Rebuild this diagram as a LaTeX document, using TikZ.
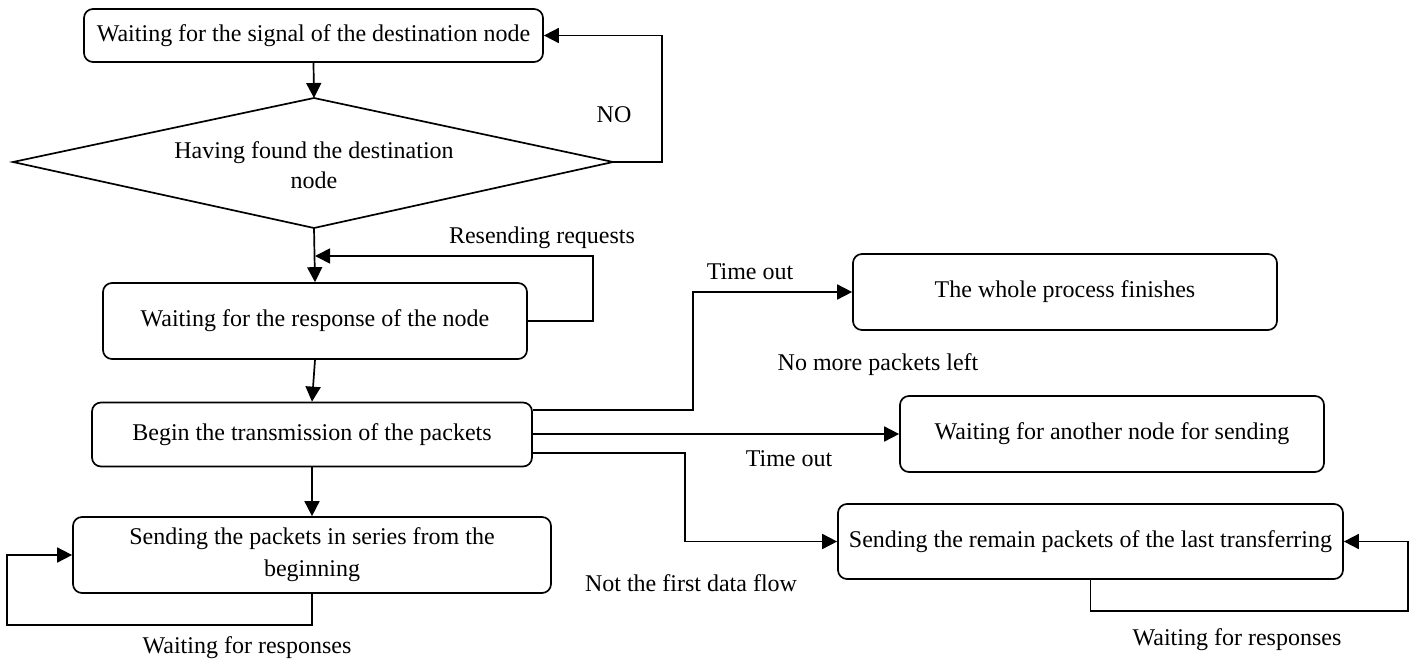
\documentclass[tikz,border=0pt]{standalone}
\usepackage{fontspec}
\setmainfont{Liberation Serif}
\usetikzlibrary{arrows.meta,calc}
\begin{document}
\begin{tikzpicture}[x=1pt,y=-1pt,
  box/.style={draw, line width=1.7pt, rounded corners=9pt, inner sep=0pt, align=center, font=\fontsize{24}{32}\selectfont},
  lbl/.style={inner sep=0pt, align=center, font=\fontsize{24}{30}\selectfont},
  arr/.style={line width=1.7pt, -{Triangle[length=15pt,width=15pt]}},
  ln/.style={line width=1.7pt, line join=miter}]
\useasboundingbox (0,0) rectangle (1416,664);

% boxes
\node[box, minimum width=459pt, minimum height=53pt] (b1) at (313.5,35.5) {Waiting for the signal of the destination node};
\node[box, minimum width=424pt, minimum height=76pt] (b3) at (315,321) {Waiting for the response of the node};
\node[box, minimum width=440pt, minimum height=64pt] (b4) at (312,434.5) {Begin the transmission of the packets};
\node[box, minimum width=478pt, minimum height=76pt] (b5) at (312,555) {Sending the packets in series from the\\beginning};
\node[box, minimum width=424pt, minimum height=76pt] (b6) at (1065,292) {The whole process finishes};
\node[box, minimum width=424pt, minimum height=76pt] (b7) at (1112,434) {Waiting for another node for sending};
\node[box, minimum width=505pt, minimum height=75pt] (b8) at (1090.5,541.5) {Sending the remain packets of the last transferring};

% decision diamond
\coordinate (dL) at (13,162);
\coordinate (dT) at (314,98);
\coordinate (dR) at (613,162);
\coordinate (dB) at (314,228);
\draw[ln] (dL) -- (dT) -- (dR) -- (dB) -- cycle;
\node[lbl] (dtext) at (314,165) {Having found the destination\\node};

% connectors
\draw[arr] (b1.south) -- (dT);
\draw[arr] (dR) -- ++(49,0) |- (b1.east);
\draw[arr] (dB) -- (b3.north);
\coordinate (rs) at (315,256);
\draw[arr] (b3.east) -- ++(65,0) |- (rs);
\draw[arr] (b3.south) -- (b4.north);
\draw[arr] (b4.south) -- (b5.north);
\draw[arr] (b5.south) -- ++(0,31) -| (7,555) -- (b5.west);
\draw[arr] ([yshift=24.5pt]b4.east) -- (693,410) |- (b6.west);
\draw[arr] (b4.east |- b7.west) -- (b7.west);
\draw[arr] ([yshift=-18.5pt]b4.east) -- (685,453) |- (b8.west);
\draw[arr] (b8.south) -- ++(0,31) -| (1408,541.5) -- (b8.east);

% labels
\node[lbl] (lno) at (614,115) {NO};
\node[lbl] (lres) at (542,238) {Resending requests};
\node[lbl] (lto1) at (750,272) {Time out};
\node[lbl] (lnm) at (878,365) {No more packets left};
\node[lbl] (lto2) at (789,459) {Time out};
\node[lbl] (lnf) at (691,583) {Not the first data flow};
\node[lbl] (lw1) at (247,648) {Waiting for responses};
\node[lbl] (lw2) at (1237,640) {Waiting for responses};
\end{tikzpicture}
\end{document}
